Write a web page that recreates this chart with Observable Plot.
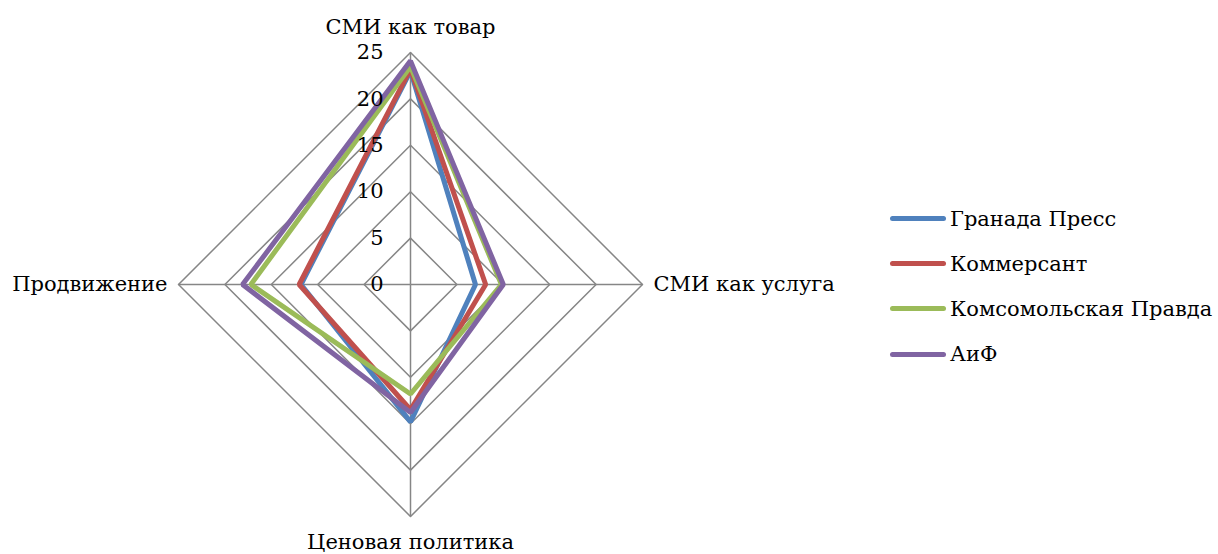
<!DOCTYPE html>
<html>
<head>
<meta charset="utf-8">
<script src="https://cdn.jsdelivr.net/npm/d3@7"></script>
<script src="https://cdn.jsdelivr.net/npm/@observablehq/plot@0.6"></script>
<style>
  html, body { margin: 0; padding: 0; background: #fff; }
  #wrap { position: relative; width: 1218px; height: 554px; font-family: 'DejaVu Serif'; }
  #legend { position: absolute; left: 890px; top: 196px; font-size: 21px; color: #000; font-family: 'DejaVu Serif'; white-space: nowrap; }
  .item { display: flex; align-items: center; height: 45.2px; }
  .sw { width: 56px; height: 5px; border-radius: 2.5px; margin-right: 4px; flex: none; }
</style>
</head>
<body>
<div id="wrap"><div id="chart"></div><div id="legend"></div></div>
<script>
const axes = ["СМИ как товар", "СМИ как услуга", "Ценовая политика", "Продвижение"];
const series = ["Гранада Пресс", "Коммерсант", "Комсомольская Правда", "АиФ"];
const colors = ["#4F81BD", "#C0504D", "#9BBB59", "#8064A2"];
const granada = [23.0, 7.0, 14.8, 11.8];
const kommersant = [23.2, 8.1, 13.5, 12.0];
const kp = [23.5, 9.8, 11.8, 17.2];
const aif = [24.1, 10.0, 13.8, 18.1];
const ticks = [0, 5, 10, 15, 20, 25];
const rMax = 25;

const FONT = "'DejaVu Serif'";
const values = [granada, kommersant, kp, aif];
const angle = i => i * Math.PI / 2; // clockwise from top
const px = (r, i) => r * Math.sin(angle(i));
const py = (r, i) => r * Math.cos(angle(i));

const points = [];
series.forEach((s, si) => {
  axes.forEach((a, ai) => points.push({series: s, axis: ai, r: values[si][ai]}));
});
const grid = [];
ticks.filter(t => t > 0).forEach(t => {
  axes.forEach((a, ai) => grid.push({level: t, axis: ai}));
});
const spokes = axes.map((a, ai) => ({axis: ai, name: a}));

const cx = 410, cy = 284, R = 232;
const txt = {fontSize: 21, fill: "#000", fontFamily: FONT};
const chart = Plot.plot({
  width: 1218,
  height: 554,
  margin: 0,
  style: {fontFamily: FONT, background: "transparent"},
  x: {domain: [-rMax, rMax], range: [cx - R, cx + R], axis: null},
  y: {domain: [-rMax, rMax], range: [cy + R, cy - R], axis: null},
  color: {domain: series, range: colors},
  marks: [
    Plot.line(grid, {x: d => px(d.level, d.axis), y: d => py(d.level, d.axis), z: "level", curve: "linear-closed", stroke: "#868686", strokeWidth: 1.5}),
    Plot.link(spokes, {x1: 0, y1: 0, x2: d => px(rMax, d.axis), y2: d => py(rMax, d.axis), stroke: "#868686", strokeWidth: 1.5}),
    Plot.line(points, {x: d => px(d.r, d.axis), y: d => py(d.r, d.axis), z: "series", stroke: "series", curve: "linear-closed", strokeWidth: 5, strokeLinejoin: "miter"}),
    Plot.text(ticks, {x: 0, y: d => d, text: d => String(d), textAnchor: "end", dx: -27, ...txt}),
    Plot.text([spokes[0]], {x: d => px(rMax, d.axis), y: d => py(rMax, d.axis), text: "name", dy: -25, ...txt}),
    Plot.text([spokes[1]], {x: d => px(rMax, d.axis), y: d => py(rMax, d.axis), text: "name", textAnchor: "start", dx: 11, ...txt}),
    Plot.text([spokes[2]], {x: d => px(rMax, d.axis), y: d => py(rMax, d.axis), text: "name", dy: 26, ...txt}),
    Plot.text([spokes[3]], {x: d => px(rMax, d.axis), y: d => py(rMax, d.axis), text: "name", textAnchor: "end", dx: -11, ...txt})
  ]
});
document.getElementById("chart").appendChild(chart);

const legend = document.getElementById("legend");
series.forEach((s, i) => {
  const it = document.createElement("div");
  it.className = "item";
  const sw = document.createElement("span");
  sw.className = "sw";
  sw.style.background = colors[i];
  const lb = document.createElement("span");
  lb.textContent = s;
  it.appendChild(sw); it.appendChild(lb);
  legend.appendChild(it);
});
</script>
</body>
</html>
